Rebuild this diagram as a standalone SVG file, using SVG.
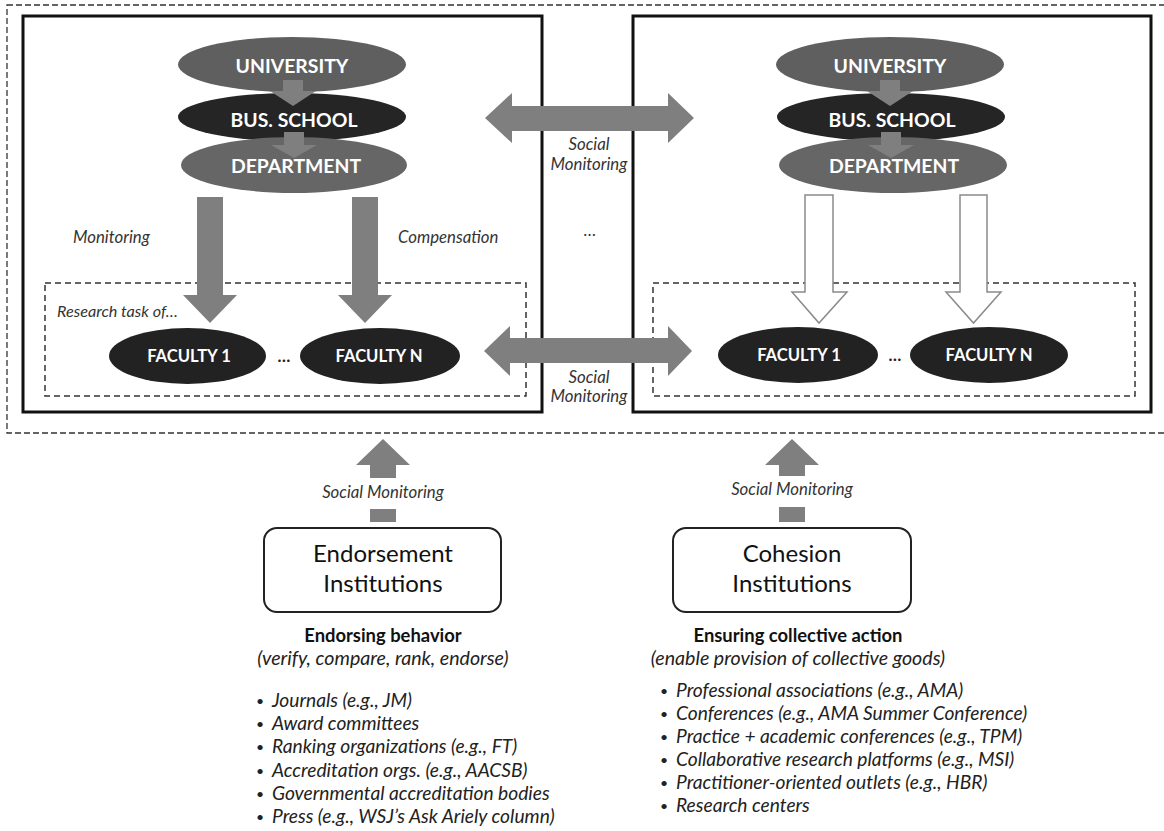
<svg xmlns="http://www.w3.org/2000/svg" width="1164" height="831" viewBox="0 0 1164 831">
<style>
text{font-family:Lato,"Liberation Sans",sans-serif;}
.node{font-weight:bold;fill:#fff;text-anchor:middle;font-size:19.4px;}
.fac{font-weight:bold;fill:#fff;text-anchor:middle;font-size:16.6px;}
.lab{font-style:italic;fill:#333;font-size:16.8px;}
.rt{font-style:italic;fill:#333;font-size:16.2px;}
.lab2{font-style:italic;fill:#333;font-size:16.8px;text-anchor:middle;}
.inst{fill:#111;font-size:24px;text-anchor:middle;}
.hd{font-weight:bold;fill:#111;font-size:18.4px;text-anchor:middle;}
.sub{font-style:italic;fill:#222;font-size:19.6px;text-anchor:middle;}
.li{font-style:italic;fill:#222;font-size:19.2px;}
.bl{fill:#222;font-size:14px;}
.arrow{fill:#7f7f7f;}
.hollow{fill:#fff;stroke:#8a8a8a;stroke-width:1.5;}
.box{fill:#fff;stroke:#111;stroke-width:3;}
.dash{fill:none;stroke:#333;stroke-width:1.5;stroke-dasharray:6 4;}
.outer{fill:none;stroke:#333;stroke-width:1.3;stroke-dasharray:6 3;}
.inst-box{fill:#fff;stroke:#222;stroke-width:2;}
</style>
<rect width="1164" height="831" fill="#fff"/>
<rect class="outer" x="7" y="5" width="1170" height="428"/>
<g id="left-system">
<rect class="box" x="23" y="16" width="519" height="396"/>
<rect class="dash" x="45" y="283" width="481" height="113"/>
</g>
<g id="right-system">
<rect class="box" x="633" y="16" width="518" height="396"/>
<rect class="dash" x="653" y="283" width="482" height="113"/>
</g>
<g id="left-university"><ellipse cx="292" cy="64.5" rx="114" ry="27.5" fill="#5f5f5f"/><text class="node" x="292" y="73">UNIVERSITY</text></g>
<g id="left-busschool"><ellipse cx="292" cy="117" rx="114" ry="24" fill="#252525"/><text class="node" x="294" y="127">BUS. SCHOOL</text></g>
<g id="left-department"><ellipse cx="294" cy="165" rx="113" ry="28" fill="#666"/><text class="node" x="296" y="173">DEPARTMENT</text></g>
<g id="right-university"><ellipse cx="890" cy="64.5" rx="114" ry="27.5" fill="#5f5f5f"/><text class="node" x="890" y="73">UNIVERSITY</text></g>
<g id="right-busschool"><ellipse cx="891" cy="117" rx="114" ry="24" fill="#252525"/><text class="node" x="892" y="127">BUS. SCHOOL</text></g>
<g id="right-department"><ellipse cx="893" cy="165" rx="114" ry="28" fill="#666"/><text class="node" x="894" y="173">DEPARTMENT</text></g>
<g id="left-faculty1"><ellipse cx="187.5" cy="356" rx="78.5" ry="28" fill="#222"/><text class="fac" x="189" y="362">FACULTY 1</text></g>
<g id="left-facultyn"><ellipse cx="380" cy="356" rx="80" ry="28" fill="#222"/><text class="fac" x="379" y="362">FACULTY N</text></g>
<g id="right-faculty1"><ellipse cx="798" cy="355" rx="80" ry="28" fill="#222"/><text class="fac" x="799" y="361">FACULTY 1</text></g>
<g id="right-facultyn"><ellipse cx="989" cy="355" rx="79" ry="28" fill="#222"/><text class="fac" x="989" y="361">FACULTY N</text></g>
<g id="endorsement"><rect class="inst-box" x="264" y="528" width="237" height="84" rx="13"/><text class="inst" x="383" y="562">Endorsement</text><text class="inst" x="383" y="592">Institutions</text></g>
<g id="cohesion"><rect class="inst-box" x="673" y="528" width="238" height="84" rx="13"/><text class="inst" x="792" y="562">Cohesion</text><text class="inst" x="792" y="592">Institutions</text></g>
<g id="connectors">
<polygon class="arrow" points="283,80 303,80 303,91 316,91 293,106 270,91 283,91"/>
<polygon class="arrow" points="284,132 304,132 304,145 317,145 294,158 271,145 284,145"/>
<polygon class="arrow" points="880,80 900,80 900,91 913,91 890,106 867,91 880,91"/>
<polygon class="arrow" points="881,132 901,132 901,145 914,145 891,158 868,145 881,145"/>
<polygon class="arrow" points="197,197 223,197 223,295 237,295 210,323 183,295 197,295"/>
<polygon class="arrow" points="352,197 378,197 378,295 392,295 365,323 338,295 352,295"/>
<polygon class="hollow" points="805,195 833,195 833,292 847,292 819,323 792,292 805,292"/>
<polygon class="hollow" points="960,195 987,195 987,292 1001,292 973.5,323 946,292 960,292"/>
<polygon class="arrow" points="485,118 512,93 512,106 668,106 668,93 694,118 668,143 668,131 512,131 512,143"/>
<polygon class="arrow" points="484,351 510,326 510,338 668,338 668,326 692,351 668,376 668,363 510,363 510,376"/>
<polygon class="arrow" points="383,439 410,465 396,465 396,478 370,478 370,465 356,465"/>
<rect class="arrow" x="370" y="509" width="26" height="13"/>
<polygon class="arrow" points="792,439 819,465 805,465 805,476 779,476 779,465 765,465"/>
<rect class="arrow" x="779" y="507" width="26" height="15"/>
</g>
<g id="labels">
<text class="lab" x="73" y="243">Monitoring</text>
<text class="lab" x="398" y="243">Compensation</text>
<text class="rt" x="57" y="317">Research task of…</text>
<text class="fac" x="284" y="362" style="fill:#222">…</text>
<text class="fac" x="895" y="361" style="fill:#222">…</text>
<text class="lab" x="589" y="150" text-anchor="middle">Social</text>
<text class="lab" x="589" y="170" text-anchor="middle">Monitoring</text>
<text class="lab" x="589" y="383" text-anchor="middle">Social</text>
<text class="lab" x="589" y="402" text-anchor="middle">Monitoring</text>
<text class="lab" x="590" y="236" text-anchor="middle">…</text>
<text class="lab2" x="383" y="498">Social Monitoring</text>
<text class="lab2" x="792" y="495">Social Monitoring</text>
<text class="hd" x="383" y="642">Endorsing behavior</text>
<text class="sub" x="383" y="665">(verify, compare, rank, endorse)</text>
<text class="hd" x="798" y="642">Ensuring collective action</text>
<text class="sub" x="798" y="665">(enable provision of collective goods)</text>
</g>
<g id="endorsement-list">
<text class="bl" x="256" y="706">•</text><text class="li" x="272" y="707">Journals (e.g., JM)</text>
<text class="bl" x="256" y="729">•</text><text class="li" x="272" y="730">Award committees</text>
<text class="bl" x="256" y="752">•</text><text class="li" x="272" y="753">Ranking organizations (e.g., FT)</text>
<text class="bl" x="256" y="776">•</text><text class="li" x="272" y="777">Accreditation orgs. (e.g., AACSB)</text>
<text class="bl" x="256" y="799">•</text><text class="li" x="272" y="800">Governmental accreditation bodies</text>
<text class="bl" x="256" y="822">•</text><text class="li" x="272" y="823">Press (e.g., WSJ’s Ask Ariely column)</text>
</g>
<g id="cohesion-list">
<text class="bl" x="660" y="696">•</text><text class="li" x="676" y="697">Professional associations (e.g., AMA)</text>
<text class="bl" x="660" y="719">•</text><text class="li" x="676" y="720">Conferences (e.g., AMA Summer Conference)</text>
<text class="bl" x="660" y="742">•</text><text class="li" x="676" y="743">Practice + academic conferences (e.g., TPM)</text>
<text class="bl" x="660" y="765">•</text><text class="li" x="676" y="766">Collaborative research platforms (e.g., MSI)</text>
<text class="bl" x="660" y="788">•</text><text class="li" x="676" y="789">Practitioner-oriented outlets (e.g., HBR)</text>
<text class="bl" x="660" y="811">•</text><text class="li" x="676" y="812">Research centers</text>
</g>
</svg>
